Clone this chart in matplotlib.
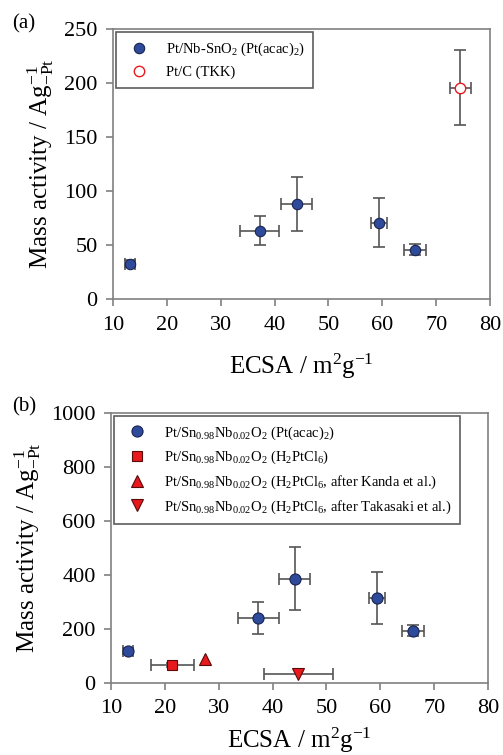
import matplotlib
matplotlib.use("Agg")
import matplotlib.pyplot as plt

plt.rcParams['font.family'] = ['Liberation Serif', 'DejaVu Serif']
plt.rcParams['mathtext.fontset'] = 'custom'
plt.rcParams['mathtext.rm'] = 'Liberation Serif'
plt.rcParams['mathtext.it'] = 'Liberation Serif:italic'
plt.rcParams['mathtext.bf'] = 'Liberation Serif:bold'

# ---- data (a) ----
a_x = [13.1, 37.2, 44.1, 59.4, 66.1]
a_y = [32.7, 63.3, 88.3, 70.7, 45.7]
a_xerr = [0.9, 3.7, 2.9, 1.45, 2.0]
a_yerr = [3, 13.5, 25, 22.5, 5]
tkk_x = [74.5]
tkk_y = [195.7]
tkk_xerr = [1.95]
tkk_yerr = [35]

# ---- data (b) ----
b_x = [13.1, 37.3, 44.1, 59.4, 66.1]
b_y = [118, 238, 385, 313, 192]
b_xerr = [0.9, 3.8, 2.9, 1.5, 2.1]
b_yerr = [10, 59, 117, 97, 20]
sq_x, sq_y, sq_xerr, sq_yerr = [21.4], [65], [4.0], [8]
up_x, up_y = [27.5], [86]
dn_x, dn_y, dn_xerr = [44.8], [31], [6.4]

blue = '#2e4b9b'
red = '#e8191c'
ecol = '#555555'
spine = '#808080'

fig = plt.figure(figsize=(5.03, 7.55), dpi=100)
ax1 = fig.add_axes([0.2247, 0.604, 0.7495, 0.3576])
ax2 = fig.add_axes([0.2207, 0.0958, 0.7495, 0.3576])

eb = dict(ecolor=ecol, elinewidth=1.2, capsize=4, capthick=1.2, linestyle='none', zorder=2)
blue_m = dict(mfc=blue, mec='#1a2450', mew=0.8, linestyle='none')
red_m = dict(mfc=red, mec='#5a0a0a', mew=0.8, linestyle='none')

# (a)
ax1.errorbar(a_x, a_y, xerr=a_xerr, yerr=a_yerr, fmt='none', **eb)
ax1.errorbar(tkk_x, tkk_y, xerr=tkk_xerr, yerr=tkk_yerr, fmt='none', **eb)
ax1.plot(a_x, a_y, 'o', ms=7.5, label=r'Pt/Nb-SnO$_2$ (Pt(acac)$_2$)', zorder=3, **blue_m)
ax1.plot(tkk_x, tkk_y, 'o', ms=7.5, mfc='white', mec=red, mew=1.0, linestyle='none',
         label='Pt/C (TKK)', zorder=3)
ax1.set_xlim(10, 80)
ax1.set_ylim(0, 250)
ax1.set_yticks([0, 50, 100, 150, 200, 250])

# (b)
ax2.errorbar(b_x, b_y, xerr=b_xerr, yerr=b_yerr, fmt='none', **eb)
ax2.errorbar(sq_x, sq_y, xerr=sq_xerr, yerr=sq_yerr, fmt='none', **eb)
ax2.errorbar(dn_x, dn_y, xerr=dn_xerr, fmt='none', **eb)
ax2.plot(b_x, b_y, 'o', ms=8, zorder=3,
         label=r'Pt/Sn$_{0.98}$Nb$_{0.02}$O$_2$ (Pt(acac)$_2$)', **blue_m)
ax2.plot(sq_x, sq_y, 's', ms=7.5, zorder=3,
         label=r'Pt/Sn$_{0.98}$Nb$_{0.02}$O$_2$ (H$_2$PtCl$_6$)', **red_m)
ax2.plot(up_x, up_y, '^', ms=8, zorder=3,
         label=r'Pt/Sn$_{0.98}$Nb$_{0.02}$O$_2$ (H$_2$PtCl$_6$, after Kanda et al.)', **red_m)
ax2.plot(dn_x, dn_y, 'v', ms=8, zorder=3,
         label=r'Pt/Sn$_{0.98}$Nb$_{0.02}$O$_2$ (H$_2$PtCl$_6$, after Takasaki et al.)', **red_m)
ax2.set_xlim(10, 80)
ax2.set_ylim(0, 1000)
ax2.set_yticks([0, 200, 400, 600, 800, 1000])

for ax, lsp, xpad in ((ax1, 0.5, 12), (ax2, 0.5, 5)):
    ax.set_xticks(range(10, 81, 10))
    for s in ax.spines.values():
        s.set_color(spine)
        s.set_linewidth(1.2)
    ax.tick_params(direction='out', length=5, width=1.2, color=spine, labelsize=16,
                   labelfontfamily='Liberation Serif')
    ax.tick_params(axis='x', pad=7)
    ax.tick_params(axis='y', pad=6)
    ax.set_xlabel(r'ECSA / m$^2$g$^{-1}$', fontsize=18, labelpad=xpad)
    ax.set_ylabel(r'Mass activity / Ag$^{-1}_{\mathrm{-Pt}}$', fontsize=18, labelpad=6)
    leg = ax.legend(loc='upper left', fontsize=10.5, frameon=True, fancybox=False,
                    borderaxespad=0.2, handletextpad=0.8, labelspacing=lsp,
                    handlelength=2.0, borderpad=0.6)
    leg.get_frame().set_edgecolor('#333333')
    leg.get_frame().set_linewidth(1.2)

fig.text(0.025, 0.962, '(a)', fontsize=15)
fig.text(0.025, 0.455, '(b)', fontsize=15)

fig.savefig('out.png', dpi=100)
